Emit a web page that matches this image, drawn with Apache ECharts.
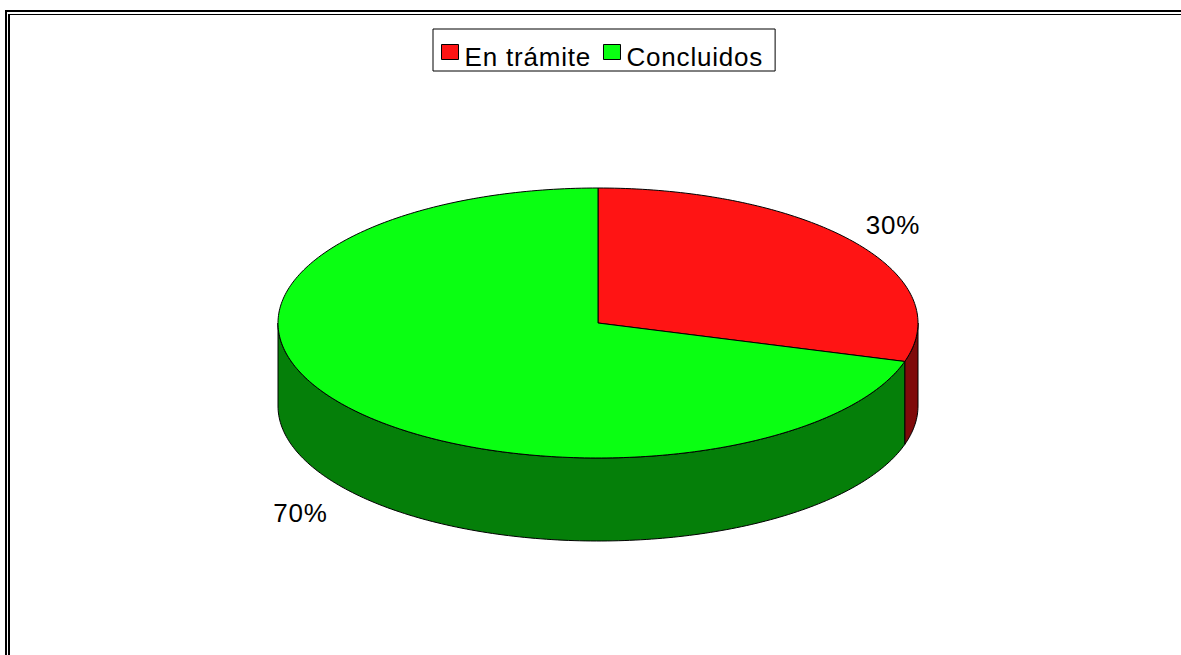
<!DOCTYPE html>
<html>
<head>
<meta charset="utf-8">
<style>html,body{margin:0;padding:0;background:#fff}#chart{width:1181px;height:655px}#chart text{letter-spacing:0.8px}</style>
<script src="https://cdn.jsdelivr.net/npm/echarts@6/dist/echarts.min.js"></script>
</head>
<body>
<div id="chart"></div>
<script>
var categories = ['En trámite', 'Concluidos'];
var values = [29.6, 70.4];

// layout of the flattened pie, not data
var topColors = ['#ff1414', '#0aff12'];
var sideColors = ['#7f0a0a', '#057f09'];
var cx = 598, cy = 323, rx = 320, ry = 135, depth = 83;
var labelKx = [1.15, 1.16], labelKy = [1.21, 1.33], labelDepth = [0, 83];

var total = values[0] + values[1];

function pt(deg, yOff) {
    var a = deg * Math.PI / 180;
    return [cx + rx * Math.sin(a), cy - ry * Math.cos(a) + yOff];
}

function arc(from, to, yOff) {
    var pts = [];
    var n = Math.max(2, Math.ceil(Math.abs(to - from)));
    for (var i = 0; i <= n; i++) {
        pts.push(pt(from + (to - from) * i / n, yOff));
    }
    return pts;
}

function sliceRange(index) {
    var before = 0;
    for (var i = 0; i < index; i++) before += values[i];
    return [before / total * 360, (before + values[index]) / total * 360];
}

function renderSlice(params, api) {
    var i = params.seriesIndex;
    var range = sliceRange(i);
    var children = [];
    var sideFrom = Math.max(range[0], 90);
    var sideTo = Math.min(range[1], 270);
    if (sideTo > sideFrom) {
        children.push({
            type: 'polygon',
            shape: {points: arc(sideFrom, sideTo, 0).concat(arc(sideTo, sideFrom, depth))},
            style: {fill: sideColors[i], stroke: '#000', lineWidth: 1}
        });
    }
    children.push({
        type: 'polygon',
        shape: {points: [[cx, cy]].concat(arc(range[0], range[1], 0))},
        style: {fill: topColors[i], stroke: '#000', lineWidth: 1}
    });
    var mid = (range[0] + range[1]) / 2 * Math.PI / 180;
    children.push({
        type: 'text',
        x: cx + labelKx[i] * rx * Math.sin(mid),
        y: cy - labelKy[i] * ry * Math.cos(mid) + labelDepth[i],
        style: {
            text: Math.round(api.value(0) / total * 100) + '%',
            fontFamily: 'Liberation Sans',
            fontSize: 26,
            fill: '#000',
            align: 'center',
            verticalAlign: 'middle'
        }
    });
    return {type: 'group', children: children};
}

var myChart = echarts.init(document.getElementById('chart'), null, {renderer: 'svg'});
var option = {
    animation: false,
    backgroundColor: '#fff',
    legend: {
        left: 433,
        top: 29,
        padding: [15, 20, 1, 8],
        itemGap: 20,
        itemWidth: 17,
        itemHeight: 15,
        icon: 'rect',
        borderColor: '#000',
        borderWidth: 1,
        backgroundColor: '#fff',
        selectedMode: false,
        itemStyle: {borderColor: '#000', borderWidth: 1},
        formatter: '{t|{name}}',
        textStyle: {
            fontFamily: 'Liberation Sans',
            fontSize: 26,
            color: '#000',
            rich: {t: {fontFamily: 'Liberation Sans', fontSize: 26, color: '#000', padding: [10, 0, 0, 1]}}
        },
        data: categories
    },
    graphic: [
        {type: 'polyline', silent: true, shape: {points: [[6, 655], [6, 11], [1181, 11]]}, style: {stroke: '#000', lineWidth: 2, fill: null}},
        {type: 'line', silent: true, shape: {x1: 9, y1: 14, x2: 9, y2: 655}, style: {stroke: '#000', lineWidth: 2}},
        {type: 'line', silent: true, shape: {x1: 8, y1: 14.5, x2: 1181, y2: 14.5}, style: {stroke: '#000', lineWidth: 1}}
    ],
    series: categories.map(function (name, i) {
        return {
            name: name,
            type: 'custom',
            coordinateSystem: 'none',
            silent: true,
            itemStyle: {color: topColors[i]},
            renderItem: renderSlice,
            data: [values[i]]
        };
    })
};
myChart.setOption(option);
</script>
</body>
</html>
